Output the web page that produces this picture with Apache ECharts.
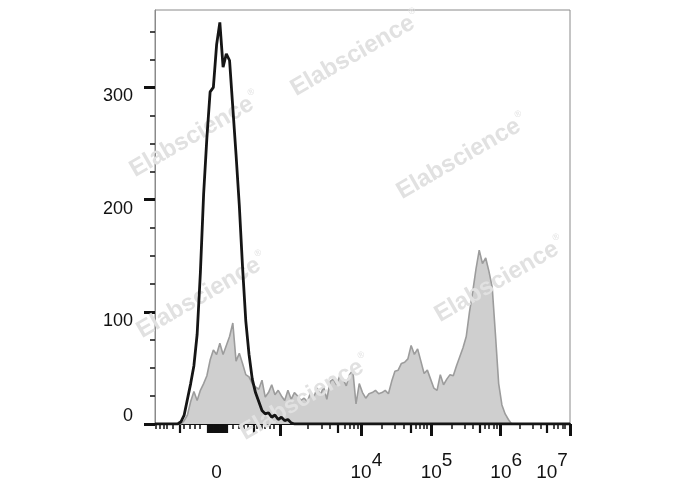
<!DOCTYPE html>
<html>
<head>
<meta charset="utf-8">
<script src="https://cdn.jsdelivr.net/npm/echarts@6/dist/echarts.min.js"></script>
<style>
html,body{margin:0;padding:0;background:#fff;}
#chart{width:688px;height:490px;}
</style>
</head>
<body>
<div id="chart"></div>
<script>
// Histogram bins: display channels 0..1024, one bin every 8 channels (129 bins)
const binWidth = 8;

// Unstained / isotype control (black outline)
const blackCounts = [
  0,0,0,0,0,0,0,0, 2, 8,
  22,36,52,80,135,205,255,296,300,338,
  358,318,330,324,282,240,195,140,92,62,
  40,28,20,12,9,10,6,8,4,6,
  3,4,1,0,0,0,0,0,0,0,
  0,0,0,0,0,0,0,0,0,0,
  0,0,0,0,0,0,0,0,0,0,
  0,0,0,0,0,0,0,0,0,0,
  0,0,0,0,0,0,0,0,0,0,
  0,0,0,0,0,0,0,0,0,0,
  0,0,0,0,0,0,0,0,0,0,
  0,0,0,0,0,0,0,0,0,0,
  0,0,0,0,0,0,0,0,0
];

// Stained sample (grey filled)
const grayCounts = [
  0,0,0,0,0,0,0,0,0,3,
  8,20,29,21,30,36,43,57,66,62,
  72,62,70,78,90,56,63,54,44,42,
  36,33,31,39,24,28,35,26,30,25,
  21,30,22,28,25,21,23,20,28,24,
  32,26,33,22,38,40,35,43,40,34,
  44,48,18,36,28,23,27,28,30,27,
  28,30,27,38,47,48,54,55,58,70,
  62,67,56,45,48,40,32,30,44,35,
  40,44,43,52,60,68,78,100,118,138,
  155,143,148,136,122,80,36,17,9,4,
  0,0,0,0,0,0,0,0,0,0,
  0,0,0,0,0,0,0,0,0
];

// X axis (biexponential display, channel units)
const xLabelPos = [152, 508, 681, 853, 1024];
const xLabelText = ['0', '10^4', '10^5', '10^6', '10^7'];
const xMajorTicks = [308, 508, 681, 853, 1024];
const xMidTicks = [60, 243, 451, 632, 801, 967,
  131,134,137,140,143,146,149,152,155,158,161,164,167,170,173,176];
const xMinorTicks = [3, 11, 21, 30, 44, 72, 86, 99, 111,
  193, 206, 218, 230, 251, 263, 271, 284, 294,
  377, 411, 432, 469, 481, 491, 501,
  559, 592, 613, 644, 654, 662, 670,
  731, 764, 785, 814, 824, 836, 844,
  900, 933, 952, 985, 994, 1005, 1012];

// Y axis
const yMax = 369;
const yLabels = [0, 100, 200, 300];
const yMinorTicks = [25, 50, 75, 125, 150, 175, 225, 250, 275, 325, 350];

const blackData = blackCounts.map((v, i) => [i * binWidth, v]);
const grayData = grayCounts.map((v, i) => [i * binWidth, v]);

const FONT = '"Liberation Sans", Arial, Helvetica, sans-serif';

function xAxisDef(ticks, len, w, withLabels) {
  const ax = {
    type: 'value', min: 0, max: 1024, position: 'bottom', offset: 0,
    axisLine: { show: false },
    splitLine: { show: false },
    axisTick: { show: true, inside: false, length: len, customValues: ticks,
      lineStyle: { color: '#111', width: w } },
    axisLabel: { show: false }
  };
  if (withLabels) {
    ax.axisLabel = {
      show: true,
      customValues: xLabelPos,
      margin: 26,
      color: '#111',
      fontFamily: FONT,
      formatter: function (v) {
        let k = xLabelPos.indexOf(v);
        if (k < 0) { k = 0; let best = 1e9; xLabelPos.forEach((p, j) => { if (Math.abs(p - v) < best) { best = Math.abs(p - v); k = j; } }); }
        const t = xLabelText[k];
        if (t.indexOf('^') < 0) return '{b|' + t + '}';
        const parts = t.split('^');
        if (k === xLabelPos.length - 1) return '{bl|' + parts[0] + '}{el|' + parts[1] + '}';
        return '{bp|' + parts[0] + '}{e|' + parts[1] + '}';
      },
      rich: {
        b:  { fontSize: 19, lineHeight: 46, color: '#111', fontFamily: FONT },
        bp: { fontSize: 19, lineHeight: 46, color: '#111', fontFamily: FONT, padding: [0, 0, 0, 11] },
        bl: { fontSize: 19, lineHeight: 46, color: '#111', fontFamily: FONT },
        e:  { fontSize: 19, lineHeight: 22, color: '#111', fontFamily: FONT, padding: [0, 0, 24, 0] },
        el: { fontSize: 19, lineHeight: 22, color: '#111', fontFamily: FONT, padding: [0, 36, 24, 0] }
      }
    };
    ax.axisLine = { show: true, lineStyle: { color: '#111', width: 2 } };
  }
  return ax;
}

function yAxisDef(ticks, len, w, withLabels) {
  const ax = {
    type: 'value', min: 0, max: yMax, position: 'left', offset: 0,
    axisLine: { show: withLabels, lineStyle: { color: '#8a8a8a', width: 1 } },
    splitLine: { show: false },
    axisTick: { show: true, inside: false, length: len, customValues: ticks,
      lineStyle: { color: '#111', width: w } },
    axisLabel: { show: false }
  };
  if (withLabels) {
    ax.axisLabel = {
      show: true,
      customValues: yLabels,
      margin: 22,
      formatter: function (v) { return v === 0 ? '{z|0}' : '{n|' + v + '}'; },
      rich: {
        n: { fontSize: 18, color: '#111', fontFamily: FONT, padding: [18, 0, 0, 0] },
        z: { fontSize: 18, color: '#111', fontFamily: FONT, padding: [0, 0, 15, 0] }
      }
    };
  }
  return ax;
}

const wmPositions = [[356, 54], [195, 135], [462, 157], [202, 296], [500, 280], [305, 398]];
const graphics = wmPositions.map(p => ({
  type: 'text',
  x: p[0], y: p[1],
  rotation: 30 * Math.PI / 180,
  z: 3,
  silent: true,
  style: {
    text: '{a|Elabscience}{r|®}',
    align: 'center',
    verticalAlign: 'middle',
    fill: '#e1e1e1',
    rich: {
      a: { fontSize: 24, fontWeight: 'bold', fontFamily: FONT, fill: '#e1e1e1' },
      r: { fontSize: 9, fontFamily: FONT, fill: '#e1e1e1', padding: [0, 0, 18, 1] }
    }
  }
}));

const chart = echarts.init(document.getElementById('chart'), null, { renderer: 'canvas' });
chart.setOption({
  animation: false,
  backgroundColor: '#ffffff',
  textStyle: { fontFamily: FONT },
  grid: {
    left: 155, right: 118, top: 10, bottom: 66,
    containLabel: false,
    outerBoundsMode: 'none',
    show: true, borderColor: '#8a8a8a', borderWidth: 1, backgroundColor: 'transparent'
  },
  xAxis: [
    xAxisDef(xMajorTicks, 12, 3, true),
    xAxisDef(xMidTicks, 9, 2.2, false),
    xAxisDef(xMinorTicks, 5, 1.5, false)
  ],
  yAxis: [
    yAxisDef(yLabels, 11, 3, true),
    yAxisDef(yMinorTicks, 5, 1.5, false)
  ],
  graphic: graphics,
  series: [
    {
      name: 'Stained', type: 'line', xAxisIndex: 0, yAxisIndex: 0,
      data: grayData, symbol: 'none', smooth: false, z: 2,
      lineStyle: { color: '#9c9c9c', width: 1.6 },
      areaStyle: { color: '#cfcfcf', opacity: 1 }
    },
    {
      name: 'Control', type: 'line', xAxisIndex: 0, yAxisIndex: 0,
      data: blackData, symbol: 'none', smooth: false, z: 5,
      lineStyle: { color: '#151515', width: 2.8 }
    }
  ]
});
</script>
</body>
</html>
